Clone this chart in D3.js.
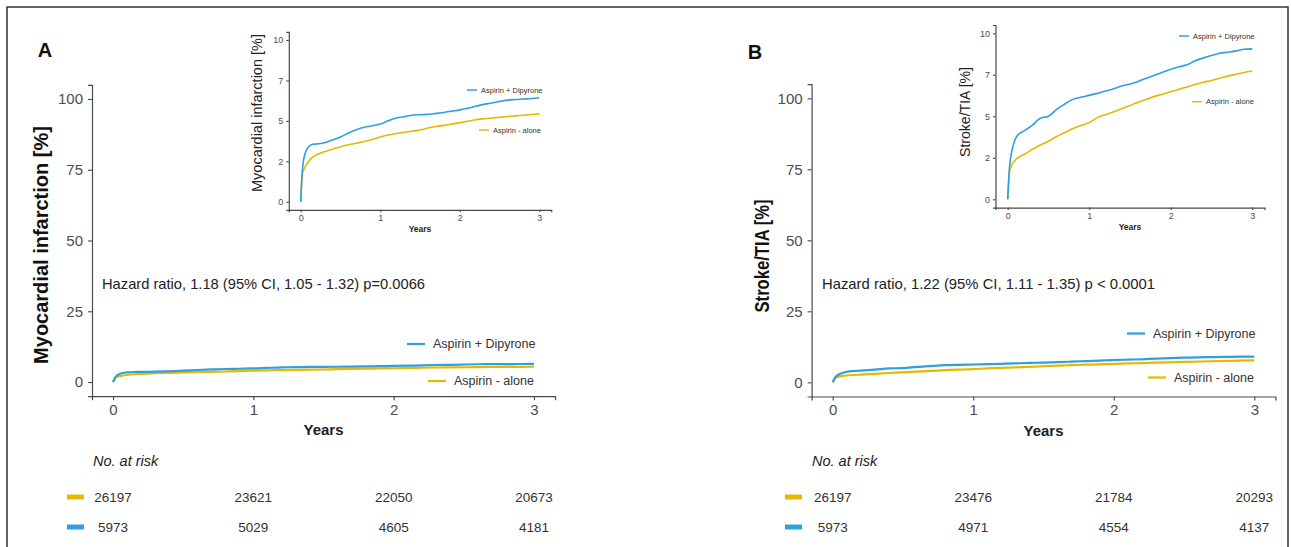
<!DOCTYPE html>
<html>
<head>
<meta charset="utf-8">
<script src="https://cdn.jsdelivr.net/npm/d3@7"></script>
<style>
  html, body { margin: 0; padding: 0; background: #fff; }
  svg { display: block; }
</style>
</head>
<body>
<svg id="fig" width="1291" height="547"></svg>
<script>
// ---- Data --------------------------------------------------------------
// Follow-up time grid (years)
const timeGrid = [0, 0.02, 0.05, 0.1, 0.15, 0.2, 0.3, 0.4, 0.5, 0.6, 0.7, 0.8, 0.9,
  1.0, 1.1, 1.2, 1.3, 1.4, 1.5, 1.6, 1.7, 1.8, 1.9, 2.0, 2.1, 2.2, 2.3, 2.4, 2.5,
  2.6, 2.7, 2.8, 2.9, 3.0];

// Cumulative incidence of myocardial infarction (%)
const miDipyrone = [0, 1.9, 2.9, 3.4, 3.55, 3.57, 3.65, 3.82, 4.0, 4.25, 4.45, 4.6, 4.7,
  4.8, 5.0, 5.18, 5.25, 5.35, 5.38, 5.4, 5.46, 5.52, 5.6, 5.68, 5.78, 5.9, 6.02, 6.1,
  6.2, 6.28, 6.32, 6.35, 6.38, 6.43];
const miAlone = [0, 1.7, 2.1, 2.5, 2.75, 2.9, 3.1, 3.25, 3.4, 3.52, 3.62, 3.72, 3.85,
  4.0, 4.12, 4.22, 4.29, 4.36, 4.43, 4.56, 4.65, 4.72, 4.8, 4.88, 4.98, 5.07, 5.13, 5.18,
  5.22, 5.27, 5.31, 5.35, 5.39, 5.43];

// Cumulative incidence of stroke/TIA (%)
const strokeDipyrone = [0, 1.8, 2.9, 3.7, 3.98, 4.12, 4.45, 4.88, 5.0, 5.42, 5.74, 6.02, 6.15,
  6.26, 6.38, 6.52, 6.66, 6.82, 6.94, 7.1, 7.29, 7.47, 7.65, 7.83, 7.98, 8.1, 8.34, 8.52,
  8.66, 8.8, 8.86, 8.94, 9.04, 9.06];
const strokeAlone = [0, 1.6, 2.07, 2.4, 2.58, 2.7, 3.0, 3.27, 3.5, 3.78, 4.02, 4.26, 4.45,
  4.62, 4.92, 5.1, 5.28, 5.46, 5.65, 5.85, 6.02, 6.2, 6.33, 6.48, 6.63, 6.77, 6.92, 7.05,
  7.16, 7.29, 7.42, 7.53, 7.64, 7.73];

// Numbers at risk at 0, 1, 2, 3 years
const riskYears = [0, 1, 2, 3];
const miRiskAlone = [26197, 23621, 22050, 20673];
const miRiskDipyrone = [5973, 5029, 4605, 4181];
const strokeRiskAlone = [26197, 23476, 21784, 20293];
const strokeRiskDipyrone = [5973, 4971, 4554, 4137];

// Axis ticks
const yearTicks = [0, 1, 2, 3];
const mainTicks = [0, 25, 50, 75, 100];
const insetTicks = [0, 2.5, 5, 7.5, 10];
const insetTickLabels = ["0", "2", "5", "7", "10"];

const seriesNames = ["Aspirin + Dipyrone", "Aspirin - alone"];
const panelLetters = ["A", "B"];
const outcomeTitles = ["Myocardial infarction [%]", "Stroke/TIA [%]"];
const hazardTexts = [
  "Hazard ratio, 1.18 (95% CI, 1.05 - 1.32) p=0.0066",
  "Hazard ratio, 1.22 (95% CI, 1.11 - 1.35) p < 0.0001"
];

// ---- Styling -----------------------------------------------------------
const BLUE = "#2E9FDF";
const YELLOW = "#E7B800";
const AXIS = "#4a4a4a";
const TICKTXT = "#4d4d4d";
const ARIAL = "'Liberation Sans', Arial, sans-serif";

const svg = d3.select("#fig");

// frame around the figure
svg.append("rect")
  .attr("x", 7).attr("y", 7).attr("width", 1281).attr("height", 600)
  .attr("fill", "none").attr("stroke", "#333").attr("stroke-width", 1.5);

// Panel layouts (condensed texts use a fixed rendered length)
const layouts = [
  {
    letter: [45, 56.5],
    main: { x: [92, 555], y: [396.2, 84.8] },
    title: { x: 41, y: 245, size: 20, len: null },
    inset: { x: [288.8, 551.2], y: [209.8, 31.9] },
    insetTitle: { x: 257, y: 113, size: 14.5, len: null },
    insetLegend: [[467, 90], [479, 130]],
    hazard: { x: 102, y: 289, len: 323 },
    legend: [[407, 344], [428, 381]],
    riskLabel: [93, 466],
    riskRows: [497, 527],
    riskDash: 67
  },
  {
    letter: [755, 58.5],
    main: { x: [811.6, 1275.4], y: [396.5, 84.1] },
    title: { x: 762, y: 256, size: 20, len: 113 },
    inset: { x: [995.5, 1264.5], y: [207.6, 25] },
    insetTitle: { x: 965, y: 112, size: 15, len: 90 },
    insetLegend: [[1179, 36], [1192, 101.7]],
    hazard: { x: 822, y: 289, len: 333 },
    legend: [[1127, 333.5], [1148, 377.5]],
    riskLabel: [812, 466],
    riskRows: [497, 527],
    riskDash: 785
  }
];

const panelData = [
  { dip: miDipyrone, alone: miAlone, riskAlone: miRiskAlone, riskDip: miRiskDipyrone },
  { dip: strokeDipyrone, alone: strokeAlone, riskAlone: strokeRiskAlone, riskDip: strokeRiskDipyrone }
];

function fitLength(sel, len) {
  if (len) sel.attr("textLength", len).attr("lengthAdjust", "spacingAndGlyphs");
  return sel;
}

function styleAxis(g, size) {
  g.attr("font-family", ARIAL).attr("font-size", size);
  g.select(".domain").attr("stroke", AXIS).attr("stroke-width", 1.2);
  g.selectAll(".tick line").attr("stroke", AXIS).attr("stroke-width", 1.1);
  g.selectAll(".tick text").attr("fill", TICKTXT);
}

function drawPlot(g, x, y, yTicks, yLabels, opts) {
  const yAxis = d3.axisLeft(y).tickValues(yTicks).tickSizeOuter(0)
    .tickSize(opts.tick).tickPadding(opts.pad);
  if (yLabels) yAxis.tickFormat((d, i) => yLabels[i]);
  g.append("g")
    .attr("transform", `translate(${x.range()[0]},0)`)
    .call(yAxis)
    .call(a => styleAxis(a, opts.font));

  g.append("g")
    .attr("transform", `translate(0,${y.range()[0]})`)
    .call(d3.axisBottom(x).tickValues(yearTicks).tickFormat(d3.format("d"))
      .tickSizeOuter(0).tickSize(opts.tick).tickPadding(opts.padX))
    .call(a => styleAxis(a, opts.font));

  const line = d3.line()
    .x(d => x(d[0]))
    .y(d => y(d[1]))
    .curve(d3.curveMonotoneX);

  [[opts.alone, YELLOW], [opts.dip, BLUE]].forEach(([vals, col]) => {
    g.append("path")
      .datum(d3.zip(timeGrid, vals))
      .attr("fill", "none")
      .attr("stroke", col)
      .attr("stroke-width", opts.lw)
      .attr("stroke-linejoin", "round")
      .attr("d", line);
  });

  g.append("text")
    .attr("x", (x(0) + x(3)) / 2)
    .attr("y", y.range()[0] + opts.yearsDy)
    .attr("text-anchor", "middle")
    .attr("font-family", ARIAL)
    .attr("font-weight", "bold")
    .attr("font-size", opts.yearsSize)
    .attr("fill", "#222")
    .text("Years");
}

function drawLegend(g, pos, len, gap, size) {
  [BLUE, YELLOW].forEach((col, i) => {
    const [lx, ly] = pos[i];
    g.append("line")
      .attr("x1", lx).attr("x2", lx + len)
      .attr("y1", ly).attr("y2", ly)
      .attr("stroke", col).attr("stroke-width", size > 10 ? 2.2 : 1.4);
    g.append("text")
      .attr("x", lx + len + gap).attr("y", ly)
      .attr("dy", "0.35em")
      .attr("font-family", ARIAL).attr("font-size", size)
      .attr("fill", "#333")
      .text(seriesNames[i]);
  });
}

layouts.forEach((L, p) => {
  const D = panelData[p];
  const g = svg.append("g");

  // panel letter
  g.append("text")
    .attr("x", L.letter[0]).attr("y", L.letter[1])
    .attr("text-anchor", "middle")
    .attr("font-family", ARIAL).attr("font-weight", "bold").attr("font-size", 20)
    .attr("fill", "#111")
    .text(panelLetters[p]);

  // main plot, full 0-100 % scale
  const x = d3.scaleLinear().domain([-0.15, 3.15]).range(L.main.x);
  const y = d3.scaleLinear().domain([-5, 105]).range(L.main.y);
  drawPlot(g, x, y, mainTicks, null, {
    tick: 4, pad: 5, padX: 4, font: 15, lw: 2.2,
    dip: D.dip, alone: D.alone, yearsDy: 39, yearsSize: 15
  });

  g.append("text")
    .attr("transform", `translate(${L.title.x},${L.title.y}) rotate(-90)`)
    .attr("text-anchor", "middle")
    .attr("dy", "0.35em")
    .attr("font-family", ARIAL).attr("font-weight", "bold")
    .attr("font-size", L.title.size)
    .attr("fill", "#111")
    .text(outcomeTitles[p])
    .call(fitLength, L.title.len);

  g.append("text")
    .attr("x", L.hazard.x).attr("y", L.hazard.y)
    .attr("font-family", ARIAL).attr("font-size", 15)
    .attr("fill", "#222")
    .text(hazardTexts[p])
    .call(fitLength, L.hazard.len);

  drawLegend(g, L.legend, 18, 8, 12.5);

  // zoomed inset, 0-10 % scale
  const xi = d3.scaleLinear().domain([-0.15, 3.15]).range(L.inset.x);
  const yi = d3.scaleLinear().domain([-0.5, 10.5]).range(L.inset.y);
  drawPlot(g, xi, yi, insetTicks, insetTickLabels, {
    tick: 2.5, pad: 3, padX: 2.5, font: 9, lw: 1.6,
    dip: D.dip, alone: D.alone, yearsDy: 22, yearsSize: 8.5
  });

  g.append("text")
    .attr("transform", `translate(${L.insetTitle.x},${L.insetTitle.y}) rotate(-90)`)
    .attr("text-anchor", "middle")
    .attr("dy", "0.35em")
    .attr("font-family", ARIAL)
    .attr("font-size", L.insetTitle.size)
    .attr("fill", "#222")
    .text(outcomeTitles[p])
    .call(fitLength, L.insetTitle.len);

  drawLegend(g, L.insetLegend, 10, 4, 7.5);

  // numbers-at-risk table
  g.append("text")
    .attr("x", L.riskLabel[0]).attr("y", L.riskLabel[1])
    .attr("font-family", ARIAL).attr("font-style", "italic").attr("font-size", 14.5)
    .attr("fill", "#222")
    .text("No. at risk");

  [[D.riskAlone, YELLOW], [D.riskDip, BLUE]].forEach(([vals, col], r) => {
    const ry = L.riskRows[r];
    g.append("rect")
      .attr("x", L.riskDash).attr("y", ry - 2.5)
      .attr("width", 17).attr("height", 5)
      .attr("fill", col);
    g.selectAll(null)
      .data(vals)
      .join("text")
      .attr("x", (d, i) => x(riskYears[i]))
      .attr("y", ry)
      .attr("dy", "0.36em")
      .attr("text-anchor", "middle")
      .attr("font-family", ARIAL).attr("font-size", 13.5)
      .attr("fill", "#333")
      .text(d => d);
  });
});
</script>
</body>
</html>
